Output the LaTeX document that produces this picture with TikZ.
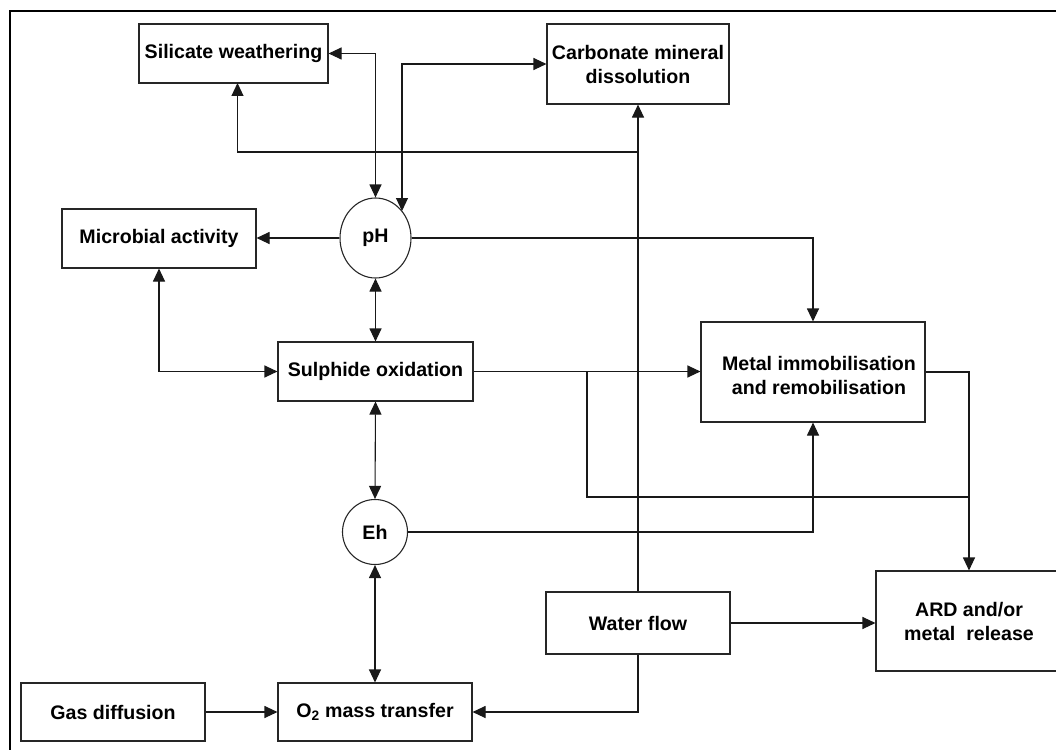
\documentclass[tikz,border=0pt]{standalone}
\usepackage{fontspec}
\setmainfont{Liberation Sans}
\usetikzlibrary{arrows.meta,shapes.geometric,calc}
\begin{document}
\begin{tikzpicture}[x=1pt,y=-1pt,
  txt/.style={font=\fontsize{19.6}{24}\selectfont\bfseries},
  box/.style={txt,draw=black!85,line width=1.1pt,rectangle,inner sep=0pt,align=center},
  circ/.style={txt,draw=black!85,line width=1.1pt,ellipse,inner sep=0pt},
  con/.style={line width=1.1pt,draw=black!90},
  arr/.style={con,-{Triangle[length=13pt,width=12pt]}},
  darr/.style={con,{Triangle[length=13pt,width=12pt]}-{Triangle[length=13pt,width=12pt]}}]
\useasboundingbox (0,0) rectangle (1056,749);
\clip (0,0) rectangle (1056,749);
\draw[line width=2.2pt] (10,11) rectangle (1100,800);
% nodes
\node[box,minimum width=189pt,minimum height=59pt] (sil) at (233.5,53.5) {Silicate weathering};
\node[box,minimum width=182pt,minimum height=80pt] (carb) at (638,64) {Carbonate mineral\\dissolution};
\node[box,minimum width=194pt,minimum height=59pt] (mic) at (159,238.5) {Microbial activity};
\node[circ,minimum width=71pt,minimum height=80pt] (ph) at (375.5,238) {pH};
\node[box,minimum width=195pt,minimum height=59pt] (sul) at (375.5,371.5) {Sulphide oxidation};
\node[box,minimum width=224pt,minimum height=100pt] (metal) at (813,372) {};
\node[txt,align=center,inner sep=0pt] (metalt) at (819,375) {Metal immobilisation\\and remobilisation};
\node[circ,minimum width=65pt,minimum height=65pt] (eh) at (375,532) {Eh};
\node[box,minimum width=184pt,minimum height=62pt] (water) at (638,623) {Water flow};
\node[box,minimum width=186pt,minimum height=100pt] (ard) at (969,621) {ARD and/or\\metal\ \ release};
\node[box,minimum width=184pt,minimum height=58pt] (gas) at (113,712) {Gas diffusion};
\node[box,minimum width=194pt,minimum height=58pt] (o2) at (375,712) {O\textsubscript{2} mass transfer};
% helper coordinates
\coordinate (phtr) at (402,211);
\coordinate (j1) at (638,152);
\coordinate (silb) at (237.5,83);
\coordinate (j2) at (587,372);
\coordinate (j3) at (968,497);
% connectors
\draw[darr] (sil.east) -| (ph.north);
\draw[darr] (carb.west) -| (phtr);
\draw[arr] (water.north) -- (carb.south);
\draw[arr] (j1) -| (silb);
\draw[arr] (ph.west) -- (ph.west -| mic.east);
\draw[arr] (ph.east) -| (metal.north);
\draw[darr] (ph.south) -- (sul.north);
\draw[darr] (mic.south) |- (sul.west);
\draw[arr] (sul.east) -- (sul.east -| metal.west);
\draw[con] (j2) |- (j3);
\draw[arr] (metal.east) -| (ard.north);
\draw[darr] (sul.south) -- (eh.north);
\draw[arr] (eh.east) -| (metal.south);
\draw[darr] (eh.south) -- (o2.north);
\draw[arr] (gas.east) -- (o2.west);
\draw[arr] (water.south) |- (o2.east);
\draw[arr] (water.east) -- (water.east -| ard.west);
\end{tikzpicture}
\end{document}
